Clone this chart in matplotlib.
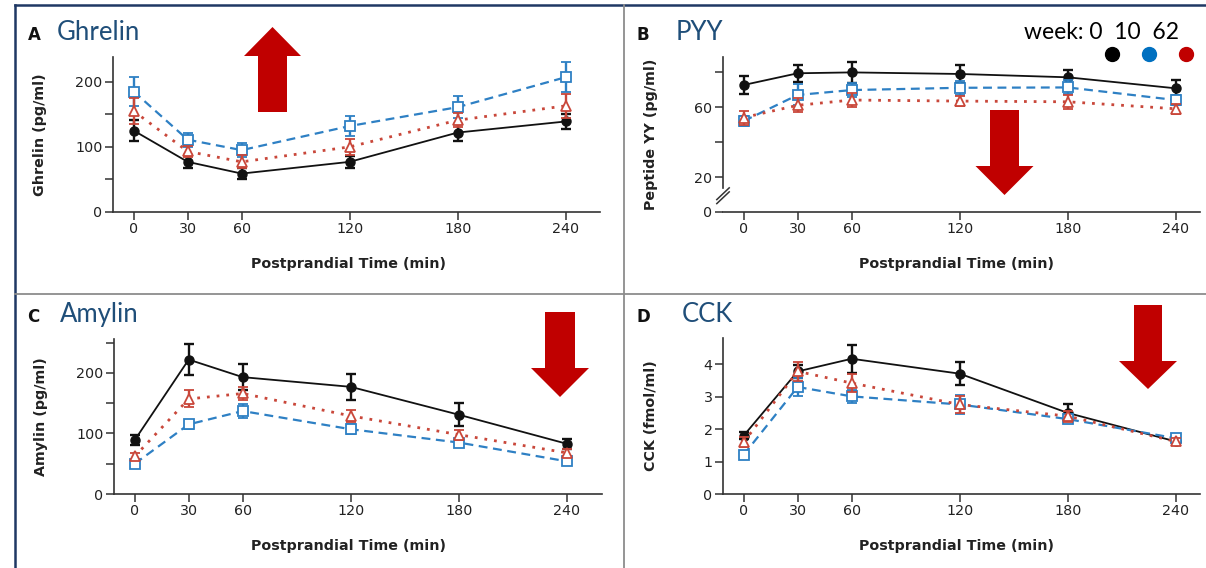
import matplotlib
matplotlib.use("Agg")
import matplotlib.pyplot as plt
from matplotlib.lines import Line2D
from matplotlib.patches import Polygon
import matplotlib.transforms as mtransforms

W, H = 1206, 568

# postprandial sampling times (min)
times = [0, 30, 60, 120, 180, 240]

# A: ghrelin (pg/ml)
ghrelin_w0 = [125, 77, 59, 77, 122, 139]
ghrelin_w0_err = [16, 10, 9, 9, 13, 12]
ghrelin_w10 = [185, 111, 95, 132, 161, 207]
ghrelin_w10_err = [22, 11, 11, 16, 17, 23]
ghrelin_w62 = [155, 93, 77, 100, 141, 163]
ghrelin_w62_err = [20, 8, 10, 12, 11, 18]

# B: peptide YY (pg/ml)
pyy_w0 = [72.6, 79.3, 79.8, 78.9, 77.0, 70.7]
pyy_w0_err = [5, 5, 6, 5, 4, 5]
pyy_w10 = [52, 66.9, 69.7, 71, 71.2, 64]
pyy_w10_err = [3, 6, 4, 4, 4, 3]
pyy_w62 = [54, 61, 64, 63.4, 63, 59]
pyy_w62_err = [4, 4, 4, 3, 4, 3]

# C: amylin (pg/ml)
amylin_w0 = [89, 222, 193, 177, 131, 83]
amylin_w0_err = [8, 26, 21, 21, 19, 8]
amylin_w10 = [50, 115, 137, 107, 85, 54]
amylin_w10_err = [4, 7, 11, 8, 6, 5]
amylin_w62 = [62, 157, 166, 129, 98, 68]
amylin_w62_err = [6, 14, 10, 10, 8, 6]

# D: CCK (fmol/ml)
cck_w0 = [1.8, 3.78, 4.17, 3.71, 2.5, 1.62]
cck_w0_err = [0.1, 0.2, 0.43, 0.35, 0.27, 0.08]
cck_w10 = [1.21, 3.3, 3.01, 2.76, 2.31, 1.72]
cck_w10_err = [0.1, 0.28, 0.2, 0.28, 0.12, 0.08]
cck_w62 = [1.6, 3.78, 3.42, 2.76, 2.4, 1.62]
cck_w62_err = [0.15, 0.3, 0.28, 0.27, 0.17, 0.1]

BLACK = '#111111'
BLUE = '#2e80c4'
RED = '#c9473a'
NAVY = '#1f4e79'
AXC = '#333333'

fig = plt.figure(figsize=(W / 100, H / 100), dpi=100)


def px_axes(left, top, right, bottom):
    return fig.add_axes([left / W, 1 - bottom / H, (right - left) / W, (bottom - top) / H])


def draw_series(ax, w0, e0, w10, e10, w62, e62):
    ax.errorbar(times, w0, yerr=e0, color=BLACK, lw=1.3, marker='o', ms=6.5,
                mfc=BLACK, mec=BLACK, elinewidth=1.7, capsize=3.8, capthick=1.7, zorder=3)
    ax.errorbar(times, w10, yerr=e10, color=BLUE, lw=1.6, ls=(0, (4, 2.5)), marker='s', ms=6.5,
                mfc='white', mec=BLUE, mew=1.3, elinewidth=1.7, capsize=3.8, capthick=1.7, zorder=4)
    ax.errorbar(times, w62, yerr=e62, color=RED, lw=2.0, ls=(0, (1, 2.5)), marker='^', ms=7.5,
                mfc='white', mec=RED, mew=1.3, elinewidth=1.7, capsize=3.8, capthick=1.7, zorder=5)


def style_axes(ax, ylim, yticks, ylabels, ylabel, ylab_x, xlab_x):
    ax.set_xlim(-11.5, (ax.get_position().width * W) / 1.8 - 11.5)
    ax.set_ylim(*ylim)
    for s in ['top', 'right']:
        ax.spines[s].set_visible(False)
    for s in ['left', 'bottom']:
        ax.spines[s].set_color(AXC)
        ax.spines[s].set_linewidth(1.2)
    ax.set_xticks(times)
    ax.set_xticklabels([str(t) for t in times])
    ax.set_yticks(yticks)
    ax.set_yticklabels(ylabels)
    ax.tick_params(direction='out', length=5.5, width=1.1, color=AXC,
                   labelsize=10.3, labelcolor='#222222', pad=2)
    ax.set_ylabel(ylabel, fontsize=10.3, fontweight='bold', color='#222222')
    ax.yaxis.set_label_coords(ylab_x, 0.5)
    ax.set_xlabel('Postprandial Time (min)', fontsize=10.3, fontweight='bold', color='#222222')
    ax.xaxis.set_label_coords(xlab_x, -0.29)
    ax.patch.set_alpha(0)


# panel A
axA = px_axes(113, 57, 600, 212)
draw_series(axA, ghrelin_w0, ghrelin_w0_err, ghrelin_w10, ghrelin_w10_err, ghrelin_w62, ghrelin_w62_err)
style_axes(axA, (0, 238), [0, 50, 100, 150, 200], ['0', '', '100', '', '200'],
           'Ghrelin (pg/ml)', -0.135, 0.483)

# panel B
axB = px_axes(723, 57, 1200, 212)
draw_series(axB, pyy_w0, pyy_w0_err, pyy_w10, pyy_w10_err, pyy_w62, pyy_w62_err)
style_axes(axB, (0, 88.6), [0, 20, 40, 60, 80], ['0', '20', '', '60', ''],
           'Peptide YY (pg/ml)', -0.137, 0.49)
axB.spines['left'].set_bounds(13.6, 88.6)
brk = mtransforms.blended_transform_factory(axB.transAxes, axB.transData)
for y0 in (4.8, 7.1):
    axB.plot([-0.013, 0.013], [y0, y0 + 6.7], color=AXC, lw=1.1,
             transform=brk, clip_on=False)

# panel C
axC = px_axes(114, 339, 602, 494)
draw_series(axC, amylin_w0, amylin_w0_err, amylin_w10, amylin_w10_err, amylin_w62, amylin_w62_err)
style_axes(axC, (0, 256), [0, 50, 100, 150, 200, 250], ['0', '', '100', '', '200', ''],
           'Amylin (pg/ml)', -0.135, 0.481)

# panel D
axD = px_axes(723, 338, 1200, 494)
draw_series(axD, cck_w0, cck_w0_err, cck_w10, cck_w10_err, cck_w62, cck_w62_err)
style_axes(axD, (0, 4.81), [0, 1, 2, 3, 4], ['0', '1', '2', '3', '4'],
           'CCK (fmol/ml)', -0.137, 0.49)


def ftext(x, y, s, **kw):
    fig.text(x / W, 1 - y / H, s, va='baseline', ha='left', **kw)


# panel letters and titles
ftext(28, 40, 'A', fontsize=12, fontweight='bold', color='#111111')
ftext(57, 40, 'Ghrelin', fontsize=18.5, color=NAVY, family='Lato')
ftext(637, 40, 'B', fontsize=12, fontweight='bold', color='#111111')
ftext(676, 40, 'PYY', fontsize=18.5, color=NAVY, family='Lato')
ftext(27, 322, 'C', fontsize=12, fontweight='bold', color='#111111')
ftext(60, 322, 'Amylin', fontsize=18.5, color=NAVY, family='Lato')
ftext(636, 322, 'D', fontsize=12, fontweight='bold', color='#111111')
ftext(682, 322, 'CCK', fontsize=18.5, color=NAVY, family='Lato')

# legend for the weeks
ftext(1024, 39, 'week: 0  10  62', fontsize=16.5, color='black', family='Lato')
for xd, c in zip([1112, 1149, 1186], ['black', '#0070c0', '#c00000']):
    fig.add_artist(Line2D([xd / W], [1 - 54 / H], marker='o', ms=10, color=c,
                          mec=c, ls='none', transform=fig.transFigure))


# red arrows (pixel geometry)
def arrow(xc, tail, base, tip, shaft_w, head_w):
    pts = [(xc - shaft_w / 2, tail), (xc + shaft_w / 2, tail), (xc + shaft_w / 2, base),
           (xc + head_w / 2, base), (xc, tip), (xc - head_w / 2, base), (xc - shaft_w / 2, base)]
    pts = [(x / W, 1 - y / H) for x, y in pts]
    fig.add_artist(Polygon(pts, closed=True, facecolor='#c00000', edgecolor='none',
                           transform=fig.transFigure))


arrow(272.5, 112, 56, 27, 29, 57)
arrow(1004.5, 110, 166, 195, 29, 58)
arrow(560, 312, 368, 397, 30, 58)
arrow(1148, 305, 361, 389, 28, 58)


# panel borders
def fline(x0, y0, x1, y1, c, lw):
    fig.add_artist(Line2D([x0 / W, x1 / W], [1 - y0 / H, 1 - y1 / H], color=c, lw=lw,
                          transform=fig.transFigure))


fline(15, 5, 1206, 5, '#1f3864', 1.8)
fline(15, 5, 15, 568, '#1f3864', 1.8)
fline(624, 5, 624, 568, '#8c8c8c', 1.3)
fline(15, 294, 1206, 294, '#8c8c8c', 1.3)

fig.savefig('out.png', dpi=100)
